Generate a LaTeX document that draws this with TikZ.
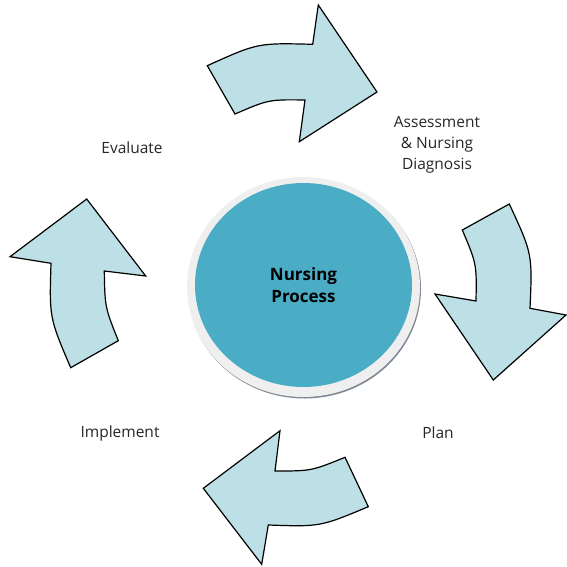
\documentclass[tikz,border=0pt]{standalone}
\usepackage{fontspec}
\setmainfont{Open Sans}
\usetikzlibrary{shapes.geometric}
\definecolor{aqua}{HTML}{4BACC6}
\definecolor{paleaqua}{HTML}{BCE0E5}
\definecolor{ringgray}{HTML}{EFEFEF}
\definecolor{shade}{HTML}{7F8A96}
\begin{document}
\begin{tikzpicture}[x=1pt,y=-1pt]
    \tikzset{turn/.style={draw=black,line width=1.2pt,fill=paleaqua,line join=miter},
      lbl/.style={text=black!85,font=\fontsize{15.5}{21}\selectfont,align=center},
      disc/.style={ellipse,inner sep=0pt},
      ring/.style={disc,fill=ringgray,minimum width=233pt,minimum height=220pt},
      core/.style={disc,fill=aqua,minimum width=217pt,minimum height=204pt,
        font=\fontsize{17}{22}\selectfont\bfseries,align=center}}
    \useasboundingbox (0,0) rectangle (566,567);

    \node[disc,fill=shade,minimum width=233pt,minimum height=220pt] (drop) at (304.5,288.5) {};
    \node[ring] (rim) at (303.5,287) {};
    \node[core] (np) at (303.5,285) {Nursing\\Process};

    % the four bent arrows
    \draw[turn] (207.3,65.7) .. controls (257.7,42.9) .. (312.7,44.3) -- (318.3,5) -- (377,92)
      -- (299.3,141.7) -- (305,100) .. controls (268.6,99.5) .. (235,114) -- cycle;
    \draw[turn] (509.3,204) .. controls (532.4,253.8) .. (530,308.3) -- (566,315) -- (493.3,380)
      -- (435,294) -- (476,301) .. controls (476.7,264) .. (462.3,230) -- cycle;
    \draw[turn] (203.3,488.3) -- (280,430.7) -- (275,471) .. controls (311.3,471) .. (345,457.3)
      -- (368.3,506.7) .. controls (320.3,526.8) .. (268.3,525) -- (261.7,564.3) -- cycle;
    \draw[turn] (86.7,199) -- (145.7,276) -- (104.3,271) .. controls (104.9,307.2) .. (118.3,340.7)
      -- (70.7,367.7) .. controls (49.3,317.7) .. (51,263.3) -- (10,256.7) -- cycle;

    \node[lbl] (evaluate) at (132,148) {Evaluate};
    \node[lbl] (assess) at (437,145) {Assessment\\\& Nursing\\Diagnosis};
    \node[lbl] (plan) at (438,433) {Plan};
    \node[lbl] (implement) at (120,433) {Implement};
  \end{tikzpicture}
\end{document}
